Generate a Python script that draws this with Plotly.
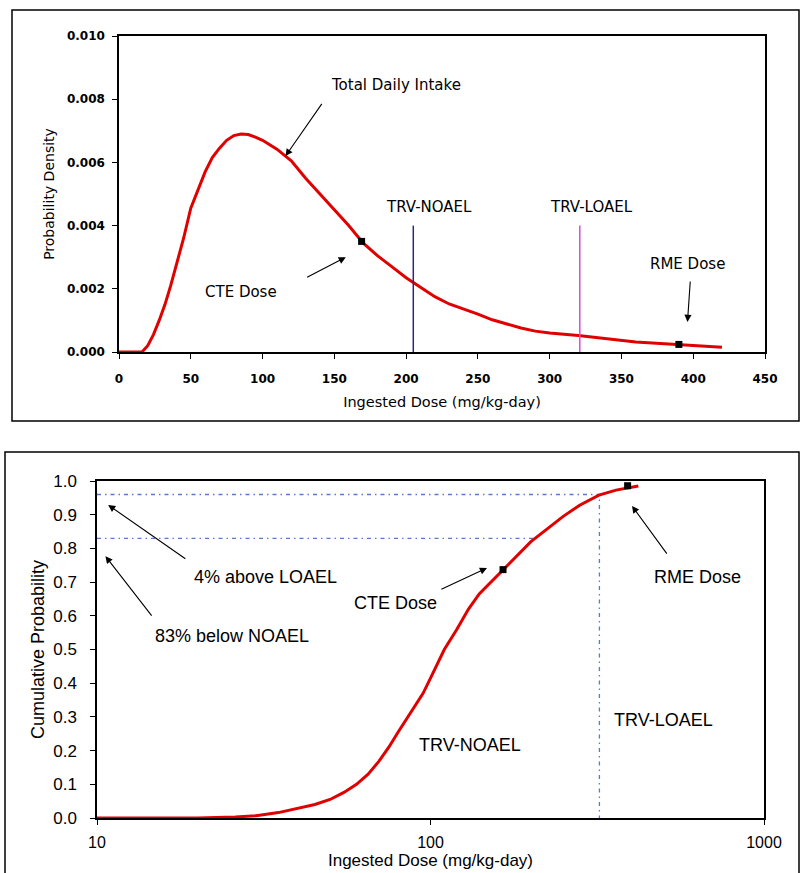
import plotly.graph_objects as go
import math

# ---------------- data ----------------
pdf_x = [0, 16, 20, 24, 28, 32, 36, 40, 45, 50, 55, 60, 65, 70, 75, 80, 85, 90, 95,
         100, 110, 120, 130, 140, 150, 160, 170, 180, 190, 200, 210, 220, 230, 240,
         250, 260, 270, 280, 290, 300, 320, 340, 360, 380, 400, 420]
pdf_y = [0.0, 0.0, 0.0002, 0.00055, 0.001, 0.0015, 0.0021, 0.00275, 0.0036, 0.00455,
         0.00515, 0.0057, 0.00615, 0.00645, 0.0067, 0.00685, 0.0069, 0.00688, 0.0068,
         0.0067, 0.00642, 0.00605, 0.0055, 0.005, 0.0045, 0.004, 0.00345, 0.00305,
         0.0027, 0.00235, 0.00205, 0.00175, 0.00152, 0.00137, 0.0012, 0.00102, 0.00088,
         0.00076, 0.00066, 0.0006, 0.00052, 0.00042, 0.00032, 0.00026, 0.00021, 0.00015]

cdf_x = [10, 20, 26, 30, 35, 40, 45, 50, 55, 60, 65, 70, 75, 80, 85, 90, 95, 100, 110,
         120, 130, 140, 150, 165, 180, 200, 220, 250, 280, 320, 360, 400, 420]
cdf_y = [0.0, 0.0, 0.003, 0.007, 0.016, 0.028, 0.04, 0.055, 0.076, 0.1, 0.13, 0.168,
         0.21, 0.255, 0.295, 0.333, 0.37, 0.415, 0.5, 0.56, 0.62, 0.665, 0.695, 0.737,
         0.775, 0.82, 0.852, 0.895, 0.928, 0.958, 0.973, 0.982, 0.985]

trv_noael = 205
trv_loael = 321
trv_line_top = 0.004
cte_dose = 169
cte_pdf = 0.0035
rme_dose = 390
rme_pdf = 0.00024
cte_cdf = 0.737
rme_cdf = 0.986
pct_below_noael = 0.83
pct_above_loael = 0.96

pdf_xticks = [0, 50, 100, 150, 200, 250, 300, 350, 400, 450]
pdf_yticks = [0.000, 0.002, 0.004, 0.006, 0.008, 0.010]
cdf_xticks = [10, 100, 1000]
cdf_yticks = [0.0, 0.1, 0.2, 0.3, 0.4, 0.5, 0.6, 0.7, 0.8, 0.9, 1.0]

# ---------------- figure ----------------
W, H = 801, 873
ARIAL = "Arial, Liberation Sans, sans-serif"
DEJAVU = "DejaVu Sans, sans-serif"
RED = "#E00000"
REFBLUE = "#5A7BC8"
REFDASH = "4px,4px,1.5px,4px"

fig = go.Figure()

# top: probability density
fig.add_trace(go.Scatter(x=pdf_x, y=pdf_y, mode="lines", line=dict(color=RED, width=3),
                         xaxis="x", yaxis="y", hoverinfo="skip"))
fig.add_trace(go.Scatter(x=[trv_noael, trv_noael], y=[0, trv_line_top], mode="lines",
                         line=dict(color="#2B2B7A", width=1.5), xaxis="x", yaxis="y"))
fig.add_trace(go.Scatter(x=[trv_loael, trv_loael], y=[0, trv_line_top], mode="lines",
                         line=dict(color="#D050D0", width=1.5), xaxis="x", yaxis="y"))
fig.add_trace(go.Scatter(x=[cte_dose, rme_dose], y=[cte_pdf, rme_pdf], mode="markers",
                         marker=dict(color="black", size=7, symbol="square"),
                         xaxis="x", yaxis="y"))

# bottom: cumulative probability
fig.add_trace(go.Scatter(x=[10, trv_loael, trv_loael], y=[pct_above_loael, pct_above_loael, 0],
                         mode="lines", line=dict(color=REFBLUE, width=1.3, dash=REFDASH),
                         xaxis="x2", yaxis="y2"))
fig.add_trace(go.Scatter(x=[10, trv_noael], y=[pct_below_noael, pct_below_noael],
                         mode="lines", line=dict(color=REFBLUE, width=1.3, dash=REFDASH),
                         xaxis="x2", yaxis="y2"))
fig.add_trace(go.Scatter(x=cdf_x, y=cdf_y, mode="lines", line=dict(color=RED, width=3),
                         xaxis="x2", yaxis="y2"))
fig.add_trace(go.Scatter(x=[cte_dose - 4, rme_dose], y=[cte_cdf, rme_cdf], mode="markers",
                         marker=dict(color="black", size=7, symbol="square"),
                         xaxis="x2", yaxis="y2"))

def px(xp):
    return xp / W

def py(yp):
    return 1 - yp / H

axis_common = dict(showgrid=False, zeroline=False, showline=True, linecolor="black",
                   linewidth=1.5, mirror=True, ticks="outside", ticklen=5,
                   tickcolor="black", tickwidth=1.2, automargin=False)

fig.update_layout(
    width=W, height=H, margin=dict(l=0, r=0, t=0, b=0, autoexpand=False),
    paper_bgcolor="white", plot_bgcolor="white", showlegend=False,
    font=dict(family=ARIAL, color="black", size=12),
    xaxis=dict(domain=[px(119), px(765)], range=[0, 450], tickvals=pdf_xticks,
               anchor="y", tickfont=dict(size=12, family=DEJAVU, weight="bold"),
               ticklabelstandoff=10,
               title=dict(text="Ingested Dose (mg/kg-day)",
                          font=dict(size=14.5, family=DEJAVU), standoff=12),
               **axis_common),
    yaxis=dict(domain=[py(352), py(36)], range=[0, 0.010], tickvals=pdf_yticks,
               tickformat=".3f", anchor="x",
               tickfont=dict(size=12, family=DEJAVU, weight="bold"), ticklabelstandoff=5,
               title=dict(text="Probability Density", font=dict(size=14, family=DEJAVU),
                          standoff=9),
               **axis_common),
    xaxis2=dict(domain=[px(97), px(764)], type="log", range=[1, 3], tickvals=cdf_xticks,
                ticktext=[str(v) for v in cdf_xticks], anchor="y2", tickfont=dict(size=16),
                ticklabelstandoff=4,
                title=dict(text="Ingested Dose (mg/kg-day)", font=dict(size=17), standoff=2),
                **axis_common),
    yaxis2=dict(domain=[py(818), py(481)], range=[0, 1.0], tickvals=cdf_yticks,
                tickformat=".1f", anchor="x2", tickfont=dict(size=17), ticklabelstandoff=10,
                title=dict(text="Cumulative Probability", font=dict(size=18), standoff=4),
                **axis_common),
)

# outer frames
fig.add_shape(type="rect", xref="paper", yref="paper", x0=px(12), x1=px(799),
              y0=py(421), y1=py(10), line=dict(color="black", width=1.5))
fig.add_shape(type="rect", xref="paper", yref="paper", x0=px(5), x1=px(799),
              y0=py(890), y1=py(452), line=dict(color="black", width=1.5))

def label(text, x, y, xref, yref, size, family):
    fig.add_annotation(text=text, x=x, y=y, xref=xref, yref=yref, showarrow=False,
                       font=dict(size=size, family=family, color="black"))

def arrow(hx, hy, tx, ty, xref, yref):
    fig.add_annotation(text="", x=hx, y=hy, ax=tx, ay=ty, xref=xref, yref=yref,
                       axref=xref, ayref=yref, showarrow=True, arrowhead=2,
                       arrowsize=1.3, arrowwidth=1.1, arrowcolor="black")

# top annotations
label("Total Daily Intake", 193, 0.00845, "x", "y", 15, DEJAVU)
arrow(116, 0.0062, 142, 0.0079, "x", "y")
label("CTE Dose", 85, 0.0019, "x", "y", 15, DEJAVU)
arrow(158, 0.0030, 130, 0.00234, "x", "y")
label("RME Dose", 396, 0.00278, "x", "y", 15, DEJAVU)
arrow(396, 0.00095, 398, 0.00228, "x", "y")
label("TRV-NOAEL", 216, 0.0046, "x", "y", 15, DEJAVU)
label("TRV-LOAEL", 329, 0.0046, "x", "y", 15, DEJAVU)

# bottom annotations (log axis: positions in log10)
L = math.log10
label("4% above LOAEL", L(31.9), 0.715, "x2", "y2", 18, ARIAL)
arrow(L(10.8), 0.929, L(18.6), 0.766, "x2", "y2")
label("83% below NOAEL", L(25.4), 0.54, "x2", "y2", 18, ARIAL)
arrow(L(10.6), 0.777, L(14.7), 0.596, "x2", "y2")
label("CTE Dose", L(78.3), 0.638, "x2", "y2", 18, ARIAL)
arrow(L(147.7), 0.742, L(106.7), 0.677, "x2", "y2")
label("RME Dose", L(630), 0.715, "x2", "y2", 18, ARIAL)
arrow(L(402), 0.926, L(515), 0.78, "x2", "y2")
label("TRV-NOAEL", L(131), 0.217, "x2", "y2", 18, ARIAL)
label("TRV-LOAEL", L(498), 0.29, "x2", "y2", 18, ARIAL)

# the page body has a default 8px margin; remove it so the figure sits at (0, 0)
fig.write_html("out.html", config={"displayModeBar": False},
               post_script="document.body.style.margin='0';document.body.style.overflow='hidden';")
